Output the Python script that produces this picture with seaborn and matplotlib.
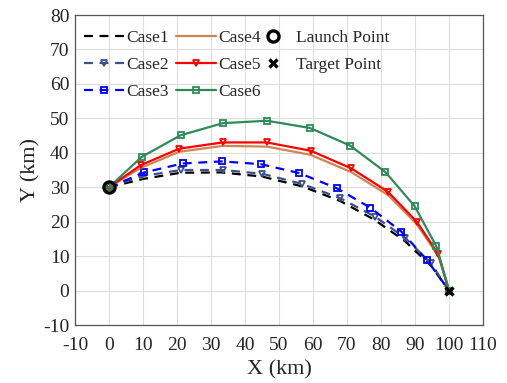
import matplotlib
matplotlib.use("Agg")
import matplotlib.pyplot as plt
import seaborn as sns
import pandas as pd

case1_x = [0, 10, 21, 33, 45, 57, 68, 78, 87, 94.7, 100]
case1_y = [30, 32.4, 34.2, 34.3, 33.1, 30.2, 26.0, 20.6, 14.4, 7.2, 0]
case2_x = [0, 9.6, 21.2, 33.4, 45.1, 56.7, 68.0, 78.2, 87.1, 94.7, 100]
case2_y = [30, 33.2, 35.0, 35.0, 33.9, 31.0, 26.8, 21.5, 15.3, 7.9, 0]
case3_x = [0, 10.4, 21.7, 33.2, 44.6, 56.0, 67.0, 76.8, 86.0, 93.6, 100]
case3_y = [30, 34.3, 36.9, 37.5, 36.7, 34.1, 29.7, 24.1, 17.1, 8.8, 0]
case4_x = [0, 9.3, 20.7, 33.4, 46.4, 59.3, 71.2, 82.0, 90.5, 96.9, 100]
case4_y = [30, 35.6, 40.3, 42.0, 41.8, 39.4, 34.4, 27.8, 19.3, 10.0, 0]
case5_x = [0, 9.3, 20.7, 33.4, 46.4, 59.3, 71.2, 82.0, 90.5, 96.9, 100]
case5_y = [30, 36.4, 41.2, 43.0, 43.0, 40.6, 35.5, 28.7, 20.0, 10.5, 0]
case6_x = [0, 9.6, 21.1, 33.5, 46.5, 59.1, 70.9, 81.3, 89.9, 96.3, 100]
case6_y = [30, 38.8, 45.1, 48.6, 49.3, 47.2, 42.1, 34.4, 24.5, 12.8, 0]
launch = (0, 30)
target = (100, 0)

sns.set_style("white")
plt.rcParams['font.family'] = ['Liberation Serif', 'DejaVu Serif']
plt.rcParams['axes.unicode_minus'] = False

fig = plt.figure(figsize=(5.07, 3.83), dpi=100)
ax = fig.add_axes([75/507, 1-325/383, (483-75)/507, (325-15)/383])

series = [
    ("Case1", case1_x, case1_y, dict(color="black", linestyle=(0, (4, 3)), marker=None)),
    ("Case2", case2_x, case2_y, dict(color="#3b4f8c", linestyle=(0, (4, 3)), marker="v")),
    ("Case3", case3_x, case3_y, dict(color="#0000ff", linestyle=(0, (4, 3)), marker="s")),
    ("Case4", case4_x, case4_y, dict(color="#d08550", linestyle="-", marker=None)),
    ("Case5", case5_x, case5_y, dict(color="#ff0000", linestyle="-", marker="v")),
    ("Case6", case6_x, case6_y, dict(color="#2e8b57", linestyle="-", marker="s")),
]

for name, xs, ys, st in series:
    df = pd.DataFrame({"x": xs, "y": ys})
    kw = dict(color=st["color"], linestyle=st["linestyle"], linewidth=1.6)
    if st["marker"]:
        kw.update(marker=st["marker"], markersize=5, markerfacecolor="none",
                  markeredgecolor=st["color"], markeredgewidth=1.3)
    sns.lineplot(data=df, x="x", y="y", sort=False, ax=ax, label=name, **kw)

ax.plot([launch[0]], [launch[1]], linestyle="none", marker="o", markersize=8,
        markerfacecolor="none", markeredgecolor="black", markeredgewidth=2.4,
        label="Launch Point")
ax.plot([target[0]], [target[1]], linestyle="none", marker="x", markersize=6,
        color="black", markeredgewidth=2.4, label="Target Point")

ax.set_xlim(-10, 110)
ax.set_ylim(-10, 80)
ax.set_xticks(range(-10, 111, 10))
ax.set_yticks(range(-10, 81, 10))
ax.grid(True, color="#dddddd", linewidth=0.8)
ax.tick_params(direction="in", labelsize=14, length=3, color="#444444")
ax.tick_params(axis="x", pad=9)
ax.tick_params(axis="y", pad=4)
for s in ax.spines.values():
    s.set_color("#555555")
    s.set_linewidth(0.9)
ax.set_xlabel("X (km)", fontsize=16, labelpad=4)
ax.set_ylabel("Y (km)", fontsize=16, labelpad=2)

h, l = ax.get_legend_handles_labels()
leg1 = ax.legend(h[:6], l[:6], ncol=2, frameon=False, fontsize=12.5, loc="upper left",
                 bbox_to_anchor=(9/408, 1 - 15/310), handlelength=2.3, handletextpad=0.15,
                 columnspacing=0.4, labelspacing=0.62, borderaxespad=0.0, borderpad=0.0)
ax.add_artist(leg1)
ax.legend(h[6:], l[6:], ncol=1, frameon=False, fontsize=12.5, loc="upper left",
          bbox_to_anchor=(189/408, 1 - 15/310), handlelength=1.0, handletextpad=0.85,
          labelspacing=0.62, borderaxespad=0.0, borderpad=0.0)

fig.savefig("out.png", dpi=100)
